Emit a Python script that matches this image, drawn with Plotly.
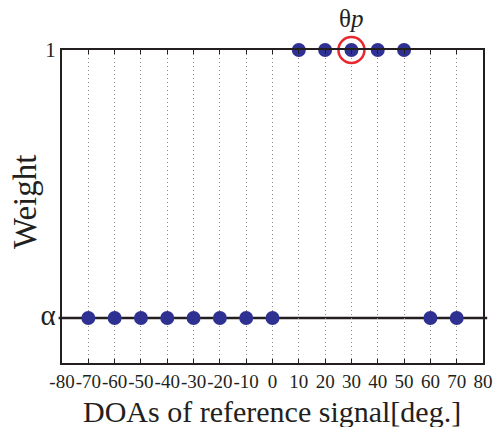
import plotly.graph_objects as go

ALPHA = 0.0
doa = [-70, -60, -50, -40, -30, -20, -10, 0, 10, 20, 30, 40, 50, 60, 70]
weight = [ALPHA]*8 + [1, 1, 1, 1, 1] + [ALPHA, ALPHA]
theta_p = 30
xticks = [-80, -70, -60, -50, -40, -30, -20, -10, 0, 10, 20, 30, 40, 50, 60, 70, 80]
yticks = [ALPHA, 1]
yticklabels = ["<span style='font-size:29px'>α</span>", "1"]

FONT = "Liberation Serif"
INK = "#231F20"

fig = go.Figure()
fig.add_shape(type="line", xref="paper", yref="y", x0=-0.008, x1=1.01, y0=ALPHA, y1=ALPHA,
              line=dict(color=INK, width=2.5), layer="below")
fig.add_trace(go.Scatter(x=doa, y=weight, mode="markers",
                         marker=dict(size=14, color="#2E3192"), cliponaxis=False))
fig.add_trace(go.Scatter(x=[theta_p], y=[1], mode="markers",
                         marker=dict(size=26, symbol="circle-open", color="#E8262B",
                                     line=dict(width=2.5, color="#E8262B")), cliponaxis=False))
fig.add_annotation(x=theta_p, y=1, text="θ<i>p</i>", showarrow=False, yshift=32,
                   font=dict(family=FONT, size=25, color=INK))
fig.add_annotation(xref="paper", yref="paper", x=0.499, y=0, yshift=-48,
                   xanchor="center", yanchor="middle", showarrow=False,
                   text="DOAs of reference signal[deg.]",
                   font=dict(family=FONT, size=30, color=INK))
fig.add_annotation(xref="paper", yref="paper", x=0, xshift=-37, y=0.514,
                   xanchor="center", yanchor="middle", showarrow=False, textangle=-90,
                   text="Weight", font=dict(family=FONT, size=33, color=INK))

fig.update_layout(
    width=493, height=427, showlegend=False,
    margin=dict(l=62, r=10, t=50, b=64),
    paper_bgcolor="white", plot_bgcolor="white",
    font=dict(family=FONT, color=INK),
    xaxis=dict(range=[-80, 80], tickvals=xticks, ticktext=[str(v) for v in xticks],
               showgrid=True, gridcolor="#8a8a8a", griddash="1px,3px", gridwidth=1,
               showline=True, linecolor=INK, linewidth=2, mirror="ticks",
               ticks="inside", ticklen=4, tickcolor=INK, zeroline=False,
               tickfont=dict(size=19), tickangle=0, automargin=False),
    yaxis=dict(range=[-0.168, 1], tickvals=yticks, ticktext=yticklabels,
               showgrid=False, showline=True, linecolor=INK, linewidth=2, mirror=True,
               ticks="", zeroline=False, tickfont=dict(size=21), automargin=False),
)
fig.write_html("out.html", config={"displayModeBar": False},
               post_script="document.body.style.margin='0';document.body.style.padding='0';")
